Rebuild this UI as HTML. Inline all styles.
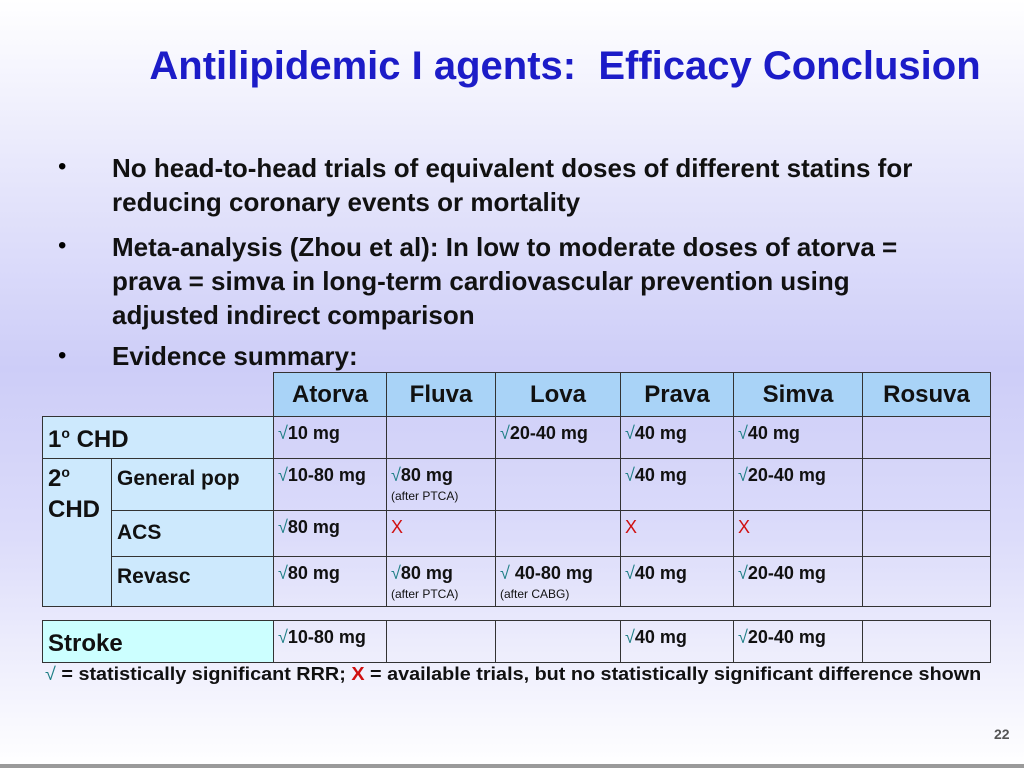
<!DOCTYPE html>
<html><head><meta charset="utf-8"><style>
body{margin:0;width:1024px;height:768px;overflow:hidden;font-family:"Liberation Sans",sans-serif;
background:linear-gradient(180deg,#ffffff 0%,#e4e4fb 25%,#cdcdf8 48%,#dcdcfa 70%,#ffffff 100%);position:relative}
.a{position:absolute}
h1{position:absolute;left:0;width:1130px;top:44px;margin:0;text-align:center;font-size:40px;color:#1c1cc8;font-weight:bold}
.b{position:absolute;left:112px;font-size:26px;font-weight:bold;color:#111;line-height:34px;width:850px}
.dot{position:absolute;left:58px;font-size:24px}
.c{position:absolute;border:1px solid #333;box-sizing:border-box;font-weight:bold;color:#111}
.h{background:#a9d3f7;font-size:24px;text-align:center;padding-top:8px}
.l{background:#cde9fd;font-size:24px;padding:8px 0 0 5px}
.d{font-size:18px;padding:6px 0 0 4px}
.d small{display:block;font-size:12px;font-weight:normal;margin-top:3px}
.k{color:#1f7f86;font-weight:normal}
.x{color:#d01010;font-weight:normal}
</style></head><body>
<h1>Antilipidemic I agents:&nbsp; Efficacy Conclusion</h1>
<div class="dot" style="top:153px">•</div>
<div class="b" style="top:151px">No head-to-head trials of equivalent doses of different statins for reducing coronary events or mortality</div>
<div class="dot" style="top:232px">•</div>
<div class="b" style="top:230px">Meta-analysis (Zhou et al): In low to moderate doses of atorva = prava = simva in long-term cardiovascular prevention using adjusted indirect comparison</div>
<div class="dot" style="top:342px">•</div>
<div class="b" style="top:339px">Evidence summary:</div>

<div class="c h" style="left:273px;top:372px;width:114px;height:45px">Atorva</div>
<div class="c h" style="left:386px;top:372px;width:110px;height:45px">Fluva</div>
<div class="c h" style="left:495px;top:372px;width:126px;height:45px">Lova</div>
<div class="c h" style="left:620px;top:372px;width:114px;height:45px">Prava</div>
<div class="c h" style="left:733px;top:372px;width:130px;height:45px">Simva</div>
<div class="c h" style="left:862px;top:372px;width:129px;height:45px">Rosuva</div>

<div class="c l" style="left:42px;top:416px;width:232px;height:43px">1<sup style="font-size:14px">o</sup> CHD</div>
<div class="c l" style="left:42px;top:458px;width:70px;height:149px;line-height:31px;padding-top:4px">2<sup style="font-size:14px;line-height:0">o</sup><br>CHD</div>
<div class="c l" style="left:111px;top:458px;width:163px;height:53px;font-size:21px">General pop</div>
<div class="c l" style="left:111px;top:510px;width:163px;height:47px;font-size:21px;padding-top:10px">ACS</div>
<div class="c l" style="left:111px;top:556px;width:163px;height:51px;font-size:21px">Revasc</div>

<div class="c d" style="left:273px;top:416px;width:114px;height:43px"><span class="k">√</span>10 mg</div>
<div class="c d" style="left:386px;top:416px;width:110px;height:43px"></div>
<div class="c d" style="left:495px;top:416px;width:126px;height:43px"><span class="k">√</span>20-40 mg</div>
<div class="c d" style="left:620px;top:416px;width:114px;height:43px"><span class="k">√</span>40 mg</div>
<div class="c d" style="left:733px;top:416px;width:130px;height:43px"><span class="k">√</span>40 mg</div>
<div class="c d" style="left:862px;top:416px;width:129px;height:43px"></div>

<div class="c d" style="left:273px;top:458px;width:114px;height:53px"><span class="k">√</span>10-80 mg</div>
<div class="c d" style="left:386px;top:458px;width:110px;height:53px"><span class="k">√</span>80 mg<small>(after PTCA)</small></div>
<div class="c d" style="left:495px;top:458px;width:126px;height:53px"></div>
<div class="c d" style="left:620px;top:458px;width:114px;height:53px"><span class="k">√</span>40 mg</div>
<div class="c d" style="left:733px;top:458px;width:130px;height:53px"><span class="k">√</span>20-40 mg</div>
<div class="c d" style="left:862px;top:458px;width:129px;height:53px"></div>

<div class="c d" style="left:273px;top:510px;width:114px;height:47px"><span class="k">√</span>80 mg</div>
<div class="c d" style="left:386px;top:510px;width:110px;height:47px"><span class="x">X</span></div>
<div class="c d" style="left:495px;top:510px;width:126px;height:47px"></div>
<div class="c d" style="left:620px;top:510px;width:114px;height:47px"><span class="x">X</span></div>
<div class="c d" style="left:733px;top:510px;width:130px;height:47px"><span class="x">X</span></div>
<div class="c d" style="left:862px;top:510px;width:129px;height:47px"></div>

<div class="c d" style="left:273px;top:556px;width:114px;height:51px"><span class="k">√</span>80 mg</div>
<div class="c d" style="left:386px;top:556px;width:110px;height:51px"><span class="k">√</span>80 mg<small>(after PTCA)</small></div>
<div class="c d" style="left:495px;top:556px;width:126px;height:51px"><span class="k">√</span> 40-80 mg<small>(after CABG)</small></div>
<div class="c d" style="left:620px;top:556px;width:114px;height:51px"><span class="k">√</span>40 mg</div>
<div class="c d" style="left:733px;top:556px;width:130px;height:51px"><span class="k">√</span>20-40 mg</div>
<div class="c d" style="left:862px;top:556px;width:129px;height:51px"></div>

<div class="c l" style="left:42px;top:620px;width:232px;height:43px;background:#ccffff;font-size:24px;padding-top:9px">Stroke</div>
<div class="c d" style="left:273px;top:620px;width:114px;height:43px"><span class="k">√</span>10-80 mg</div>
<div class="c d" style="left:386px;top:620px;width:110px;height:43px"></div>
<div class="c d" style="left:495px;top:620px;width:126px;height:43px"></div>
<div class="c d" style="left:620px;top:620px;width:114px;height:43px"><span class="k">√</span>40 mg</div>
<div class="c d" style="left:733px;top:620px;width:130px;height:43px"><span class="k">√</span>20-40 mg</div>
<div class="c d" style="left:862px;top:620px;width:129px;height:43px"></div>

<div class="a" style="left:45px;top:664px;font-size:18px;font-weight:bold;color:#111;white-space:nowrap;transform:scaleX(1.1);transform-origin:left top"><span class="k">√</span> = statistically significant RRR; <span style="color:#d01010">X</span> = available trials, but no statistically significant difference shown</div>
<div class="a" style="left:994px;top:726px;font-size:14px;font-weight:bold;color:#555">22</div>
<div class="a" style="left:0;top:764px;width:1024px;height:4px;background:#9a9a9a"></div>
</body></html>
